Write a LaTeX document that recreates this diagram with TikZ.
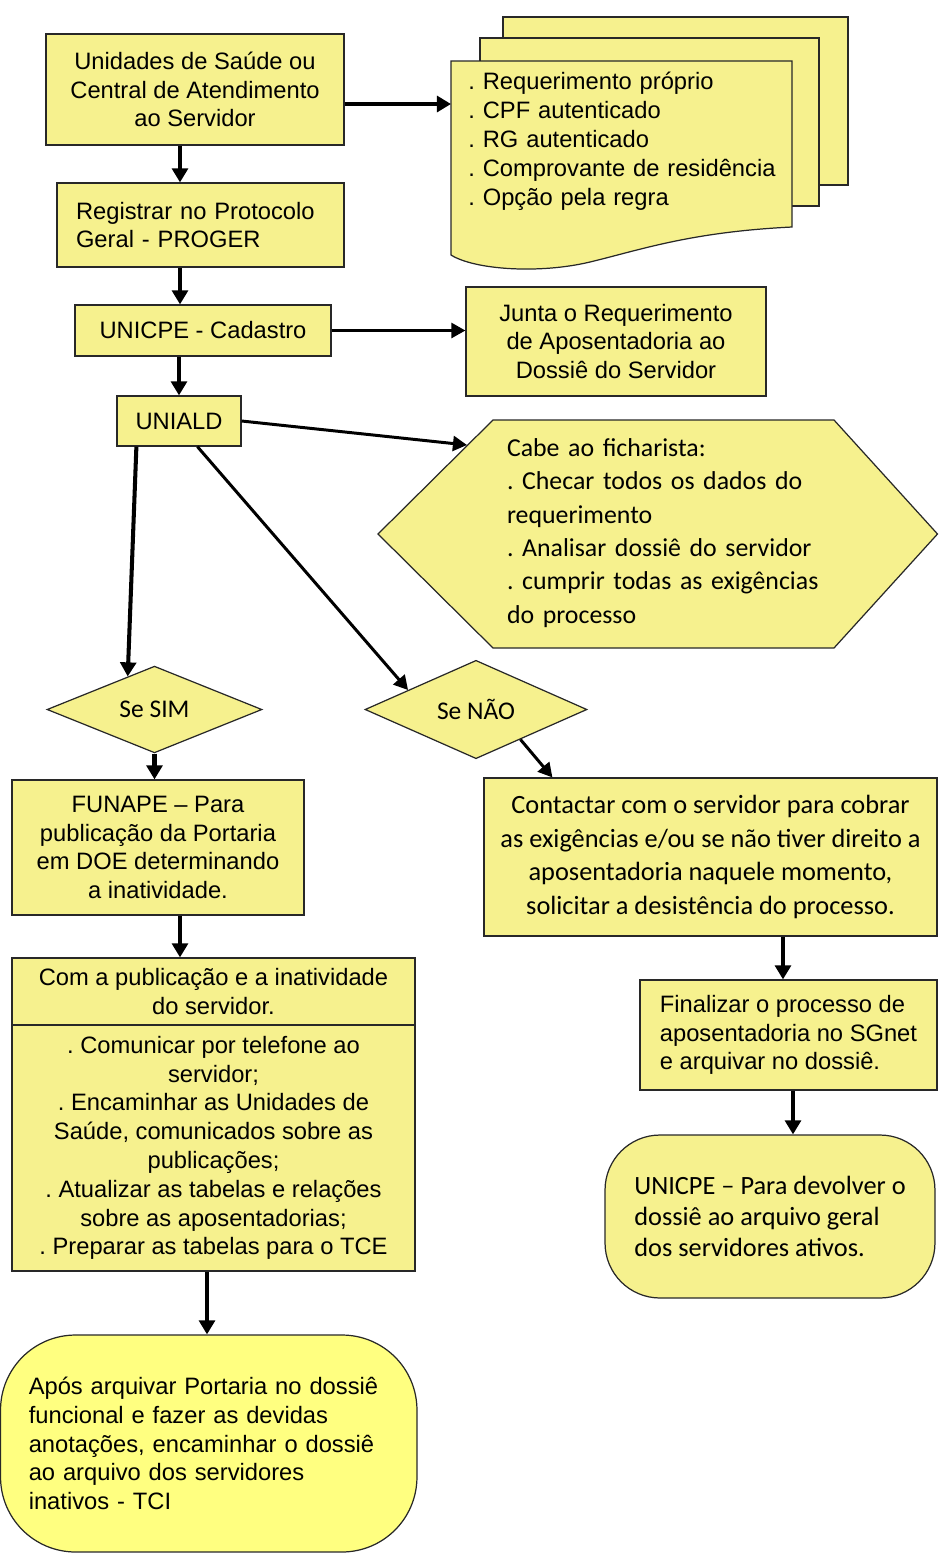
\documentclass[tikz,border=0pt]{standalone}
\usepackage{fontspec}
\usetikzlibrary{arrows.meta,shapes.geometric}
\newfontfamily\arfont{Liberation Sans}
\newfontfamily\clfont{Carlito}
\definecolor{yel}{RGB}{246,241,142}
\definecolor{yelb}{RGB}{255,255,128}
\definecolor{edge}{RGB}{40,40,40}
\begin{document}
\frenchspacing
\begin{tikzpicture}[x=0.02cm,y=-0.02cm,
  shp/.style={draw=edge,line width=0.7pt,fill=yel},
  box/.style={shp,rectangle,inner sep=0pt,font=\arfont\fontsize{13.5}{16.4}\selectfont},
  cbox/.style={shp,inner sep=0pt,font=\clfont\fontsize{15}{19.3}\selectfont},
  atext/.style={font=\arfont\fontsize{13.5}{16.4}\selectfont},
  dia/.style={shp,diamond,inner sep=0pt,font=\clfont\fontsize{14.5}{17}\selectfont},
  arr/.style={line width=2.3pt,-{Triangle[length=8pt,width=9pt]}},
  arrt/.style={line width=1.7pt,-{Triangle[length=8pt,width=8.5pt]}},
]
\useasboundingbox (0,0) rectangle (938,1553);

% document stack
\path[shp] (503,17) rectangle (848,185);
\path[shp] (480,38) rectangle (819,206);
\path[shp] (451,61) -- (792,61) -- (792,227) .. controls (690,232) and (640,250) .. (590,262) .. controls (540,274) and (475,270) .. (451,255) -- cycle;
\node[atext,anchor=north west,inner xsep=0.34cm,inner ysep=0.22cm,text width=6.4cm,align=left] (docs) at (451,61)
  {. Requerimento próprio\\. CPF autenticado\\. RG autenticado\\. Comprovante de residência\\. Opção pela regra};

% hexagon
\path[shp] (378,534) -- (493,420) -- (834,420) -- (937.5,534) -- (834,648) -- (493,648) -- cycle;
\node[font=\clfont\fontsize{14.7}{19}\selectfont,text width=7cm,align=left,inner sep=0pt] (hex) at (682,533)
  {Cabe ao ficharista:\\. Checar todos os dados do\\requerimento\\. Analisar dossiê do servidor\\. cumprir todas as exigências\\do processo};
\coordinate (hexin) at (467,445);

% boxes
\node[box,minimum width=5.96cm,minimum height=2.22cm,align=center] (A) at (195,89.5)
  {Unidades de Saúde ou\\Central de Atendimento\\ao Servidor};
\node[box,minimum width=5.74cm,minimum height=1.68cm,inner xsep=0.38cm,text width=4.98cm,align=left] (B) at (200.5,225)
  {Registrar no Protocolo\\Geral - PROGER};
\node[box,minimum width=5.12cm,minimum height=1.02cm] (C) at (203,330.5) {UNICPE - Cadastro};
\node[box,minimum width=2.48cm,minimum height=1.0cm] (D) at (179,421) {UNIALD};
\node[box,minimum width=6.0cm,minimum height=2.18cm,align=center] (E) at (616,341.5)
  {Junta o Requerimento\\de Aposentadoria ao\\Dossiê do Servidor};

\node[dia,minimum width=4.3cm,minimum height=1.7cm] (SIM) at (154.5,709.5) {Se SIM};
\node[dia,minimum width=4.44cm,minimum height=1.7cm] (NAO) at (476,709.5) {Se NÃO};

\node[box,minimum width=5.84cm,minimum height=2.7cm,align=center] (FUN) at (158,847.5)
  {FUNAPE – Para\\publicação da Portaria\\em DOE determinando\\a inatividade.};
\node[box,minimum width=8.06cm,minimum height=1.34cm,align=center] (Com) at (213.5,991.5)
  {Com a publicação e a inatividade\\do servidor.};
\node[box,minimum width=8.06cm,minimum height=4.92cm,align=center] (Combody) at (213.5,1148)
  {. Comunicar por telefone ao\\servidor;\\. Encaminhar as Unidades de\\Saúde, comunicados sobre as\\publicações;\\. Atualizar as tabelas e relações\\sobre as aposentadorias;\\. Preparar as tabelas para o TCE};
\node[box,fill=yelb,rounded corners=1.5cm,minimum width=8.33cm,minimum height=4.34cm,inner xsep=0.56cm,text width=7.2cm,align=left] (J) at (208.75,1443.5)
  {Após arquivar Portaria no dossiê\\funcional e fazer as devidas\\anotações, encaminhar o dossiê\\ao arquivo dos servidores\\inativos - TCI};

\node[cbox,minimum width=9.06cm,minimum height=3.16cm,align=center] (G) at (710.5,857)
  {Contactar com o servidor para cobrar\\as exigências e/ou se não tiver direito a\\aposentadoria naquele momento,\\solicitar a desistência do processo.};
\node[box,minimum width=5.94cm,minimum height=2.2cm,align=left] (H) at (788.5,1035)
  {Finalizar o processo de\\aposentadoria no SGnet\\e arquivar no dossiê.};
\node[cbox,font=\clfont\fontsize{15}{17.6}\selectfont,rounded corners=1.1cm,minimum width=6.6cm,minimum height=3.26cm,align=left] (I) at (770,1216.5)
  {UNICPE – Para devolver o\\dossiê ao arquivo geral\\dos servidores ativos.};

% connectors
\draw[arr,line width=2.7pt] ([yshift=-0.29cm]A.east) -- ([yshift=-0.29cm]A.east -| docs.west);
\draw[arr] ([xshift=-0.3cm]A.south) -- ([xshift=-0.3cm]A.south |- B.north);
\draw[arr] ([xshift=-0.41cm]B.south) -- ([xshift=-0.41cm]B.south |- C.north);
\draw[arr] (D.north |- C.south) -- (D.north);
\draw[arrt] (C.east) -- (C.east -| E.west);
\draw[arrt] (D.east) -- (hexin);
\draw[arr] ([xshift=0.4cm]D.south west) -- (SIM.129);
\draw[arrt] ([xshift=1.62cm]D.south west) -- (NAO.164);
\draw[arr] (SIM.south) -- (SIM.south |- FUN.north);
\draw[arrt] (NAO.-34) -- ([xshift=1.38cm]G.north west);
\draw[arr] ([xshift=0.44cm]FUN.south) -- ([xshift=0.44cm]FUN.south |- Com.north);
\draw[arr] ([xshift=-0.13cm]Combody.south) -- ([xshift=-0.13cm]Combody.south |- J.north);
\draw[arr] ([xshift=1.45cm]G.south) -- ([xshift=1.45cm]G.south |- H.north);
\draw[arr] ([xshift=0.09cm]H.south) -- ([xshift=0.09cm]H.south |- I.north);
\end{tikzpicture}
\end{document}
